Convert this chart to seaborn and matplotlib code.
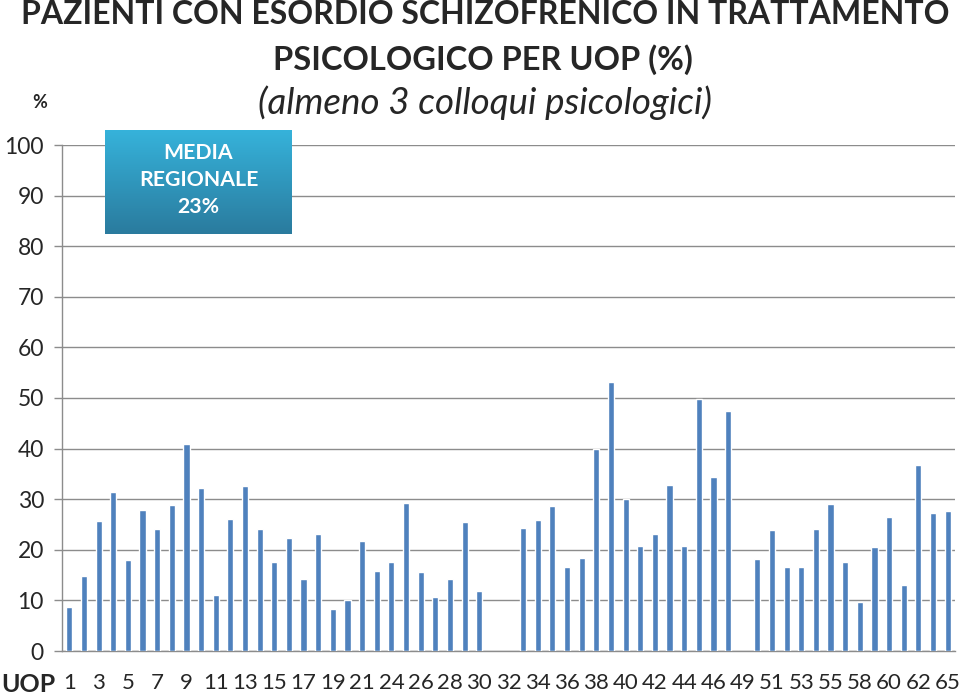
import numpy as np
import pandas as pd
import matplotlib
matplotlib.use("Agg")
import matplotlib.pyplot as plt
import seaborn as sns

# =========================
# DATA
# =========================

uop = [str(i) for i in range(1, 23)] + [str(i) for i in range(24, 48)] + \
      [str(i) for i in range(49, 57)] + [str(i) for i in range(58, 64)] + ["65"]

pct = [8.7, 14.8, 25.6, 31.5, 18.0, 27.9, 24.1, 28.9, 40.9, 32.2,
       11.1, 26.1, 32.6, 24.1, 17.6, 22.4, 14.3, 23.2, 8.3, 10.0,
       21.8, 15.8,
       17.6, 29.3, 15.6, 10.7, 14.3, 25.5, 11.9, np.nan, np.nan, 24.3,
       25.9, 28.6, 16.6, 18.4, 40.0, 53.2, 30.0, 20.8, 23.2, 32.8,
       20.7, 49.9, 34.3, 47.4,
       np.nan, 18.2, 24.0, 16.6, 16.6, 24.1, 29.1, 17.5,
       9.7, 20.6, 26.4, 13.0, 36.7, 27.2,
       27.6]

media_regionale = 23

df = pd.DataFrame({"UOP": uop, "pct": pct})

# =========================
# PLOT
# =========================

sns.set_style("white")
plt.rcParams["font.family"] = ["Lato", "DejaVu Sans"]

grid_col = "#8c8c8c"

fig = plt.figure(figsize=(9.6, 6.96), dpi=100)
ax = fig.add_axes([62 / 960, 45 / 696, 893 / 960, 506 / 696])

sns.barplot(data=df, x="UOP", y="pct", order=uop, color="#4F81BD",
            saturation=1, width=0.42, errorbar=None, ax=ax, zorder=3)

ax.set_ylim(0, 100)
ax.set_xlim(-0.5, len(uop) - 0.5)
ax.set_yticks(range(0, 101, 10))
ax.yaxis.grid(True, color=grid_col, linewidth=1)
ax.set_axisbelow(True)

ax.set_xticks(range(len(uop)))
ax.set_xticklabels([u if i % 2 == 0 else "" for i, u in enumerate(uop)], fontsize=16)
ax.set_xticks(np.arange(-0.5, len(uop)), minor=True)
ax.tick_params(axis="x", which="major", length=0, pad=16)
ax.tick_params(axis="x", which="minor", length=6, color=grid_col, width=1, direction="out")
ax.tick_params(axis="y", length=6, color=grid_col, width=1, labelsize=16.5, pad=7, left=True)

for s in ["top", "right"]:
    ax.spines[s].set_visible(False)
for s in ["left", "bottom"]:
    ax.spines[s].set_color(grid_col)
    ax.spines[s].set_linewidth(1)

ax.set_xlabel("")
ax.set_ylabel("")

# titles
fig.text(485 / 960, 1 - 15 / 696, "PAZIENTI CON ESORDIO SCHIZOFRENICO IN TRATTAMENTO",
         ha="center", va="center", fontsize=23, fontweight="bold")
fig.text(483 / 960, 1 - 60 / 696, "PSICOLOGICO PER UOP (%)",
         ha="center", va="center", fontsize=23.5, fontweight="bold")
fig.text(485 / 960, 1 - 103 / 696, "(almeno 3 colloqui psicologici)",
         ha="center", va="center", fontsize=26.5, fontstyle="italic")
fig.text(40 / 960, 1 - 103 / 696, "%", ha="center", va="center", fontsize=13, fontweight="bold")
fig.text(28 / 960, 1 - 684 / 696, "UOP", ha="center", va="center", fontsize=18, fontweight="bold")

# box with regional mean
box = fig.add_axes([105 / 960, 1 - 234 / 696, 187 / 960, 104 / 696])
top = np.array([0x36, 0xB3, 0xDB]) / 255
bot = np.array([0x2A, 0x7B, 0x9E]) / 255
t = np.linspace(0, 1, 100)[:, None]
grad = (top[None, :] * (1 - t) + bot[None, :] * t)[:, None, :]
box.imshow(grad, aspect="auto", extent=[0, 1, 0, 1])
box.set_xlim(0, 1)
box.set_ylim(0, 1)
box.axis("off")
box.text(0.5, 0.52, "MEDIA\nREGIONALE\n%d%%" % media_regionale, ha="center", va="center",
         color="white", fontsize=15.3, fontweight="bold", linespacing=1.45)

plt.savefig("out.png", dpi=100)
